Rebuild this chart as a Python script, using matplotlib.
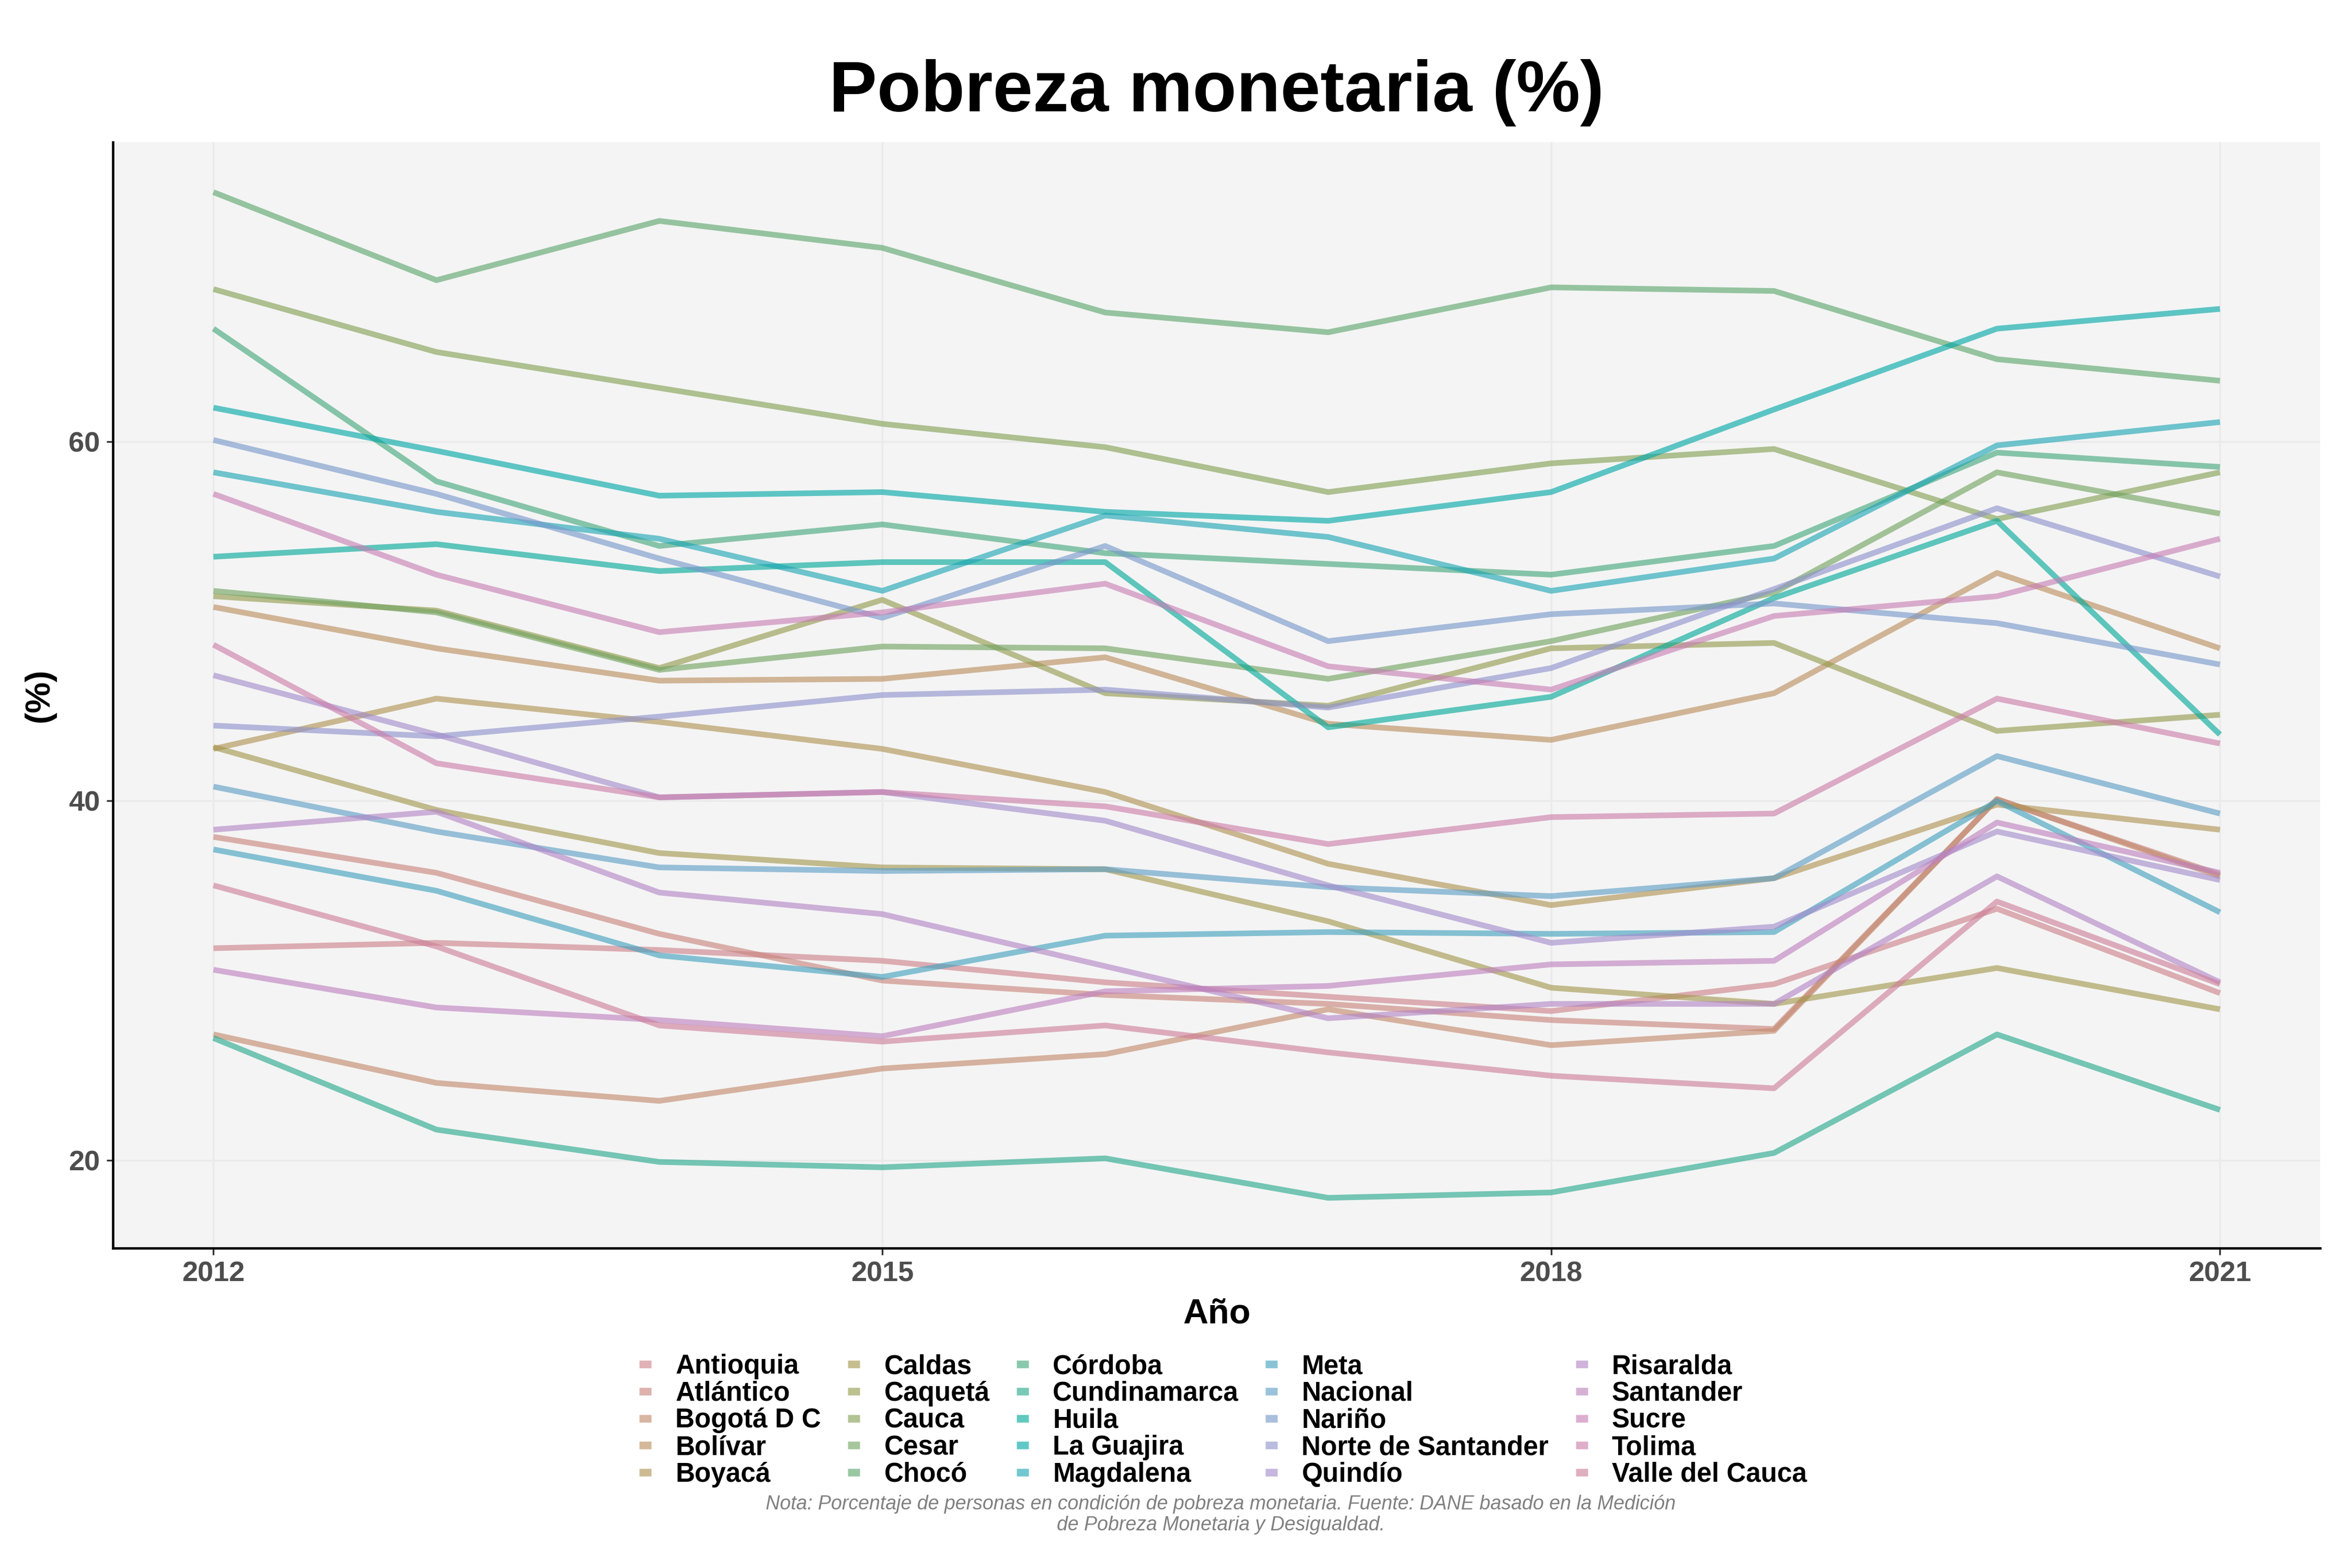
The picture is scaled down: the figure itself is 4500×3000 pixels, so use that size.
import numpy as np
import matplotlib
matplotlib.use("Agg")
import matplotlib.pyplot as plt
from matplotlib.lines import Line2D

plt.rcParams['font.family'] = ['Liberation Sans', 'DejaVu Sans']

# datos (%), 2012-2021
years = [2012, 2013, 2014, 2015, 2016, 2017, 2018, 2019, 2020, 2021]

antioquia = [31.8, 32.1, 31.7, 31.1, 29.9, 29.1, 28.3, 29.8, 34.0, 29.3]
atlantico = [38.0, 36.0, 32.6, 30.0, 29.2, 28.7, 27.8, 27.3, 40.1, 35.9]
bogota = [27.0, 24.3, 23.3, 25.1, 25.9, 28.4, 26.4, 27.2, 40.1, 35.8]
bolivar = [50.8, 48.5, 46.7, 46.8, 48.0, 44.3, 43.4, 46.0, 52.7, 48.5]
boyaca = [42.9, 45.7, 44.4, 42.9, 40.5, 36.5, 34.2, 35.7, 39.8, 38.4]
caldas = [43.0, 39.5, 37.1, 36.3, 36.2, 33.3, 29.6, 28.7, 30.7, 28.4]
caqueta = [51.4, 50.6, 47.4, 51.2, 46.0, 45.3, 48.5, 48.8, 43.9, 44.8]
cauca = [68.5, 65.0, 63.0, 61.0, 59.7, 57.2, 58.8, 59.6, 55.7, 58.3]
cesar = [51.7, 50.5, 47.3, 48.6, 48.5, 46.8, 48.9, 51.6, 58.3, 56.0]
choco = [73.9, 69.0, 72.3, 70.8, 67.2, 66.1, 68.6, 68.4, 64.6, 63.4]
cordoba = [66.3, 57.8, 54.2, 55.4, 53.8, 53.2, 52.6, 54.2, 59.4, 58.6]
cundinamarca = [26.8, 21.7, 19.9, 19.6, 20.1, 17.9, 18.2, 20.4, 27.0, 22.8]
huila = [53.6, 54.3, 52.8, 53.3, 53.3, 44.1, 45.8, 51.3, 55.6, 43.7]
la_guajira = [61.9, 59.5, 57.0, 57.2, 56.1, 55.6, 57.2, 61.8, 66.3, 67.4]
magdalena = [58.3, 56.1, 54.6, 51.7, 55.9, 54.7, 51.7, 53.5, 59.8, 61.1]
meta = [37.3, 35.0, 31.4, 30.2, 32.5, 32.7, 32.6, 32.7, 40.0, 33.8]
nacional = [40.8, 38.3, 36.3, 36.1, 36.2, 35.2, 34.7, 35.7, 42.5, 39.3]
narino = [60.1, 57.1, 53.5, 50.2, 54.2, 48.9, 50.4, 51.0, 49.9, 47.6]
norte_santander = [44.2, 43.6, 44.7, 45.9, 46.2, 45.2, 47.4, 51.8, 56.3, 52.5]
quindio = [47.0, 43.7, 40.2, 40.5, 38.9, 35.3, 32.1, 33.0, 38.3, 35.6]
risaralda = [38.4, 39.4, 34.9, 33.7, 30.8, 27.9, 28.7, 28.7, 35.8, 29.9]
santander = [30.6, 28.5, 27.8, 26.9, 29.4, 29.7, 30.9, 31.1, 38.8, 36.0]
sucre = [57.1, 52.6, 49.4, 50.5, 52.1, 47.5, 46.2, 50.3, 51.4, 54.6]
tolima = [48.7, 42.1, 40.2, 40.5, 39.7, 37.6, 39.1, 39.3, 45.7, 43.2]
valle = [35.3, 31.9, 27.5, 26.6, 27.5, 26.0, 24.7, 24.0, 34.4, 29.8]

names = ["Antioquia", "Atlántico", "Bogotá D C", "Bolívar", "Boyacá", "Caldas",
         "Caquetá", "Cauca", "Cesar", "Chocó", "Córdoba", "Cundinamarca", "Huila",
         "La Guajira", "Magdalena", "Meta", "Nacional", "Nariño",
         "Norte de Santander", "Quindío", "Risaralda", "Santander", "Sucre",
         "Tolima", "Valle del Cauca"]
series = [antioquia, atlantico, bogota, bolivar, boyaca, caldas, caqueta, cauca,
          cesar, choco, cordoba, cundinamarca, huila, la_guajira, magdalena, meta,
          nacional, narino, norte_santander, quindio, risaralda, santander, sucre,
          tolima, valle]


# paleta tipo hue de ggplot (hcl)
def hcl(h, c, l):
    h = np.deg2rad(h)
    u, v = c * np.cos(h), c * np.sin(h)
    Y = ((l + 16) / 116) ** 3
    up = u / (13 * l) + 0.1978398
    vp = v / (13 * l) + 0.4683363
    X = Y * 9 * up / (4 * vp)
    Z = Y * (12 - 3 * up - 20 * vp) / (4 * vp)
    M = np.array([[3.2406, -1.5372, -0.4986],
                  [-0.9689, 1.8758, 0.0415],
                  [0.0557, -0.2040, 1.0570]])
    rgb = M @ np.array([X, Y, Z])
    rgb = np.clip(rgb, 0, 1)
    rgb = np.where(rgb <= 0.0031308, 12.92 * rgb, 1.055 * rgb ** (1 / 2.4) - 0.055)
    return tuple(np.clip(rgb, 0, 1))


n = len(names)
colors = [hcl(5 + 360 / n * i, 50, 62) for i in range(n)]
ALPHA = 0.62

fig = plt.figure(figsize=(15, 10), dpi=300)
ax = fig.add_axes([0.0481, 0.204, 0.9384, 0.7055])
ax.set_facecolor('#F4F4F4')

for name, vals, col in zip(names, series, colors):
    ax.plot(years, vals, color=col, alpha=ALPHA, lw=2.6, solid_capstyle='butt')

ax.set_xlim(2011.55, 2021.45)
ax.set_ylim(15.1, 76.7)
ax.set_xticks([2012, 2015, 2018, 2021])
ax.set_yticks([20, 40, 60])
ax.grid(True, color='#EAEAEA', lw=0.8)
ax.set_axisbelow(True)
for s in ['top', 'right']:
    ax.spines[s].set_visible(False)
for s in ['left', 'bottom']:
    ax.spines[s].set_color('black')
    ax.spines[s].set_linewidth(1.1)
ax.tick_params(axis='both', length=3, width=0.8, color='#333333',
               labelsize=13, labelcolor='#4D4D4D', pad=3)
for lab in ax.get_xticklabels() + ax.get_yticklabels():
    lab.set_fontweight('bold')

ax.set_xlabel('Año', fontsize=16, fontweight='bold', labelpad=5)
ax.set_ylabel('(%)', fontsize=16, fontweight='bold', labelpad=6)
ax.set_title('Pobreza monetaria (%)', fontsize=33, fontweight='bold', pad=14)

handles = [Line2D([0], [0], color=c, alpha=ALPHA, lw=3.5, solid_capstyle='butt')
           for c in colors]
leg = fig.legend(handles, names, loc='center', bbox_to_anchor=(0.52, 0.094),
                 ncols=5, frameon=False, handlelength=0.45, handletextpad=0.9,
                 columnspacing=1.0, labelspacing=0.05,
                 prop={'weight': 'bold', 'size': 12.3})

fig.text(0.519, 0.034,
         'Nota: Porcentaje de personas en condición de pobreza monetaria. Fuente: DANE basado en la Medición\n'
         'de Pobreza Monetaria y Desigualdad.',
         ha='center', va='center', fontsize=9, style='italic', color='#808080',
         linespacing=1.15)

fig.savefig('out.png', dpi=300)
